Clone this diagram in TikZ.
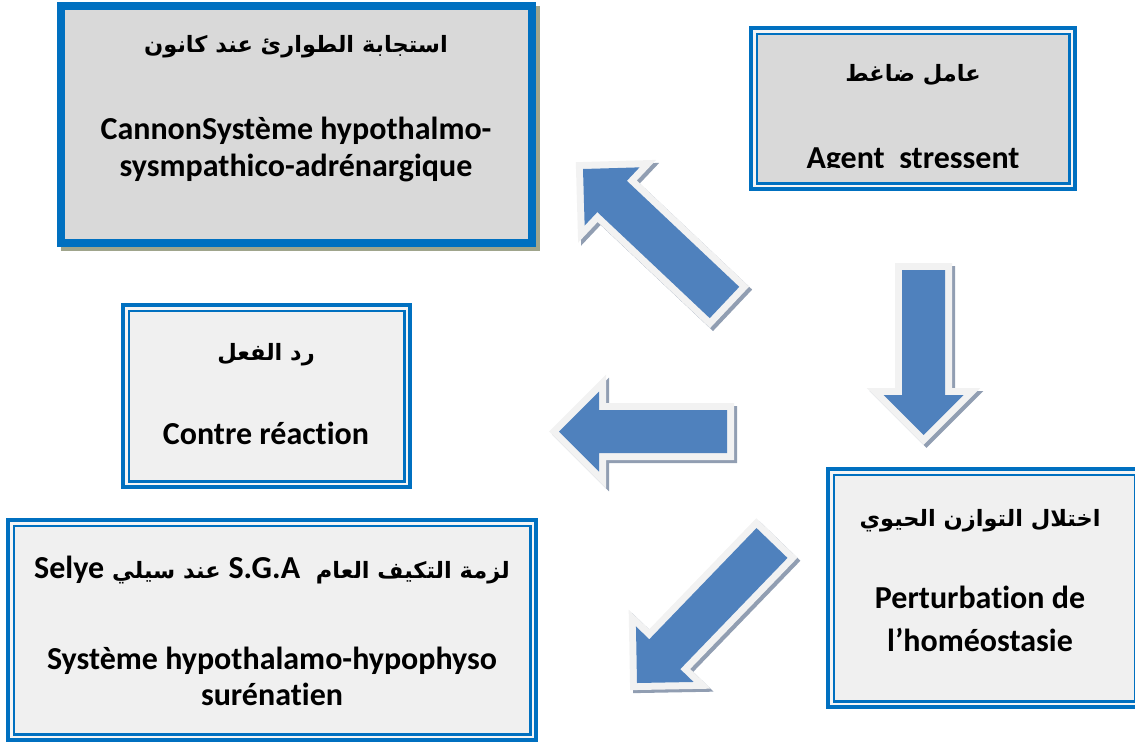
\documentclass[tikz,border=0pt]{standalone}
\usepackage{fontspec}
\setmainfont{Carlito}[Ligatures={NoCommon}]
\newfontfamily\arabicfont[Script=Arabic]{DejaVu Sans}
\TeXXeTstate=1
\usetikzlibrary{calc}
\definecolor{bblue}{RGB}{0,112,192}
\definecolor{dgrayfill}{RGB}{217,217,217}
\definecolor{lgrayfill}{RGB}{240,240,240}
\definecolor{gapcol}{RGB}{245,245,245}
\definecolor{arrowblue}{RGB}{79,129,189}
\definecolor{arrowedge}{RGB}{242,242,242}
\definecolor{arrowshadow}{RGB}{145,158,178}
\definecolor{boxshadow}{RGB}{160,165,140}
\tikzset{
  boxframe/.style={draw=bblue, line width=8pt, rectangle, inner sep=0pt},
  lat/.style={font=\bfseries\fontsize{32}{38}\selectfont, inner sep=0pt, anchor=base},
  ar/.style={font=\arabicfont\bfseries\fontsize{22.5}{27}\selectfont, inner sep=0pt},
  thinline/.style={draw=bblue, line width=2.5pt},
  gapline/.style={draw=gapcol, line width=2.5pt},
  arrowshape/.style={line width=14pt, line join=miter}
}
% name, x1, y1, x2, y2, fill
\newcommand\mybox[6]{%
  \node[boxframe, fill=#6, minimum width={#4-#2-8}, minimum height={#5-#3-8}] (#1) at ({(#2+#4)/2},{(#3+#5)/2}) {};
}
\newcommand\doubleframe[1]{%
  \draw[gapline] ([shift={(5.25pt,-5.25pt)}]#1.north west) rectangle ([shift={(-5.25pt,5.25pt)}]#1.south east);
  \draw[thinline] ([shift={(7.75pt,-7.75pt)}]#1.north west) rectangle ([shift={(-7.75pt,7.75pt)}]#1.south east);
}
\newcommand\blockarrow[2]{%
  \coordinate (hb) at ($(#2)!40pt!(#1)$);
  \coordinate (s1) at ($(#1)!21.5pt!90:(#2)$);
  \coordinate (s2) at ($(#1)!21.5pt!-90:(#2)$);
  \coordinate (b1) at ($(hb)!21.5pt!90:(#2)$);
  \coordinate (b2) at ($(hb)!21.5pt!-90:(#2)$);
  \coordinate (h1) at ($(hb)!40pt!90:(#2)$);
  \coordinate (h2) at ($(hb)!40pt!-90:(#2)$);
  \draw[arrowshape, draw=arrowshadow, fill=arrowshadow, transform canvas={xshift=3pt,yshift=-3pt}]
    (s1)--(b1)--(h1)--(#2)--(h2)--(b2)--(s2)--cycle;
  \draw[arrowshape, draw=arrowedge, fill=arrowedge]
    (s1)--(b1)--(h1)--(#2)--(h2)--(b2)--(s2)--cycle;
  \fill[arrowblue] (s1)--(b1)--(h1)--(#2)--(h2)--(b2)--(s2)--cycle;
}
\begin{document}
\begin{tikzpicture}[x=1pt,y=-1pt]
\useasboundingbox (0,0) rectangle (1135,742);
\clip (0,0) rectangle (1135,742);

% Box 1 (Cannon) with shadow
\fill[boxshadow] (61,6) rectangle (540,251);
\mybox{cannon}{57}{2}{536}{247}{dgrayfill}
\node[ar] (cannonar) at (296,47) {\beginR استجابة الطوارئ عند كانون\endR};
\node[lat] (cannonl1) at (296,139) {CannonSystème hypothalmo-};
\node[lat] (cannonl2) at (296,176) {sysmpathico-adrénargique};

% Box 2 (Agent stressent)
\mybox{agent}{749}{26}{1077}{191}{dgrayfill}
\doubleframe{agent}
\node[ar] (agentar) at (913,75) {\beginR عامل ضاغط\endR};
\begin{scope}
  \clip (760,40) rectangle (1066,167);
  \node[lat] (agentl) at (913,168.5) {Agent\ \ stressent};
\end{scope}

% Box 3 (Contre reaction)
\mybox{contre}{121}{303}{412}{489}{lgrayfill}
\doubleframe{contre}
\node[ar] (contrear) at (266,355) {\beginR رد الفعل\endR};
\node[lat] (contrel) at (266,444) {Contre réaction};

% Box 4 (Perturbation)
\mybox{pert}{826}{467}{1143}{709}{lgrayfill}
\doubleframe{pert}
\node[ar] (pertar) at (980,521) {\beginR اختلال التوازن الحيوي\endR};
\node[lat] (pertl1) at (980,608) {Perturbation de};
\node[lat] (pertl2) at (980,651) {l’homéostasie};

% Box 5 (Selye)
\mybox{selye}{6}{518}{538}{742}{lgrayfill}
\doubleframe{selye}
\node[ar, anchor=base] (selyel1) at (272,578) {\beginR لزمة التكيف العام\ \ {\rmfamily\bfseries\fontsize{32}{38}\selectfont\beginL S.G.A\endL} عند سيلي {\rmfamily\bfseries\fontsize{32}{38}\selectfont\beginL Selye\endL}\endR};
\node[lat] (selyel2) at (272,669) {Système hypothalamo-hypophyso};
\node[lat] (selyel3) at (272,705) {surénatien};

% Block arrows
\coordinate (a1tail) at (724.5,302.5);
\coordinate (a1tip) at (583,169);
\coordinate (a2tail) at (923.5,270);
\coordinate (a2tip) at (923.5,435);
\coordinate (a3tail) at (727,431.5);
\coordinate (a3tip) at (559,431.5);
\coordinate (a4tail) at (772,543);
\coordinate (a4tip) at (637,683);
\blockarrow{a1tail}{a1tip}
\blockarrow{a2tail}{a2tip}
\blockarrow{a3tail}{a3tip}
\blockarrow{a4tail}{a4tip}
\end{tikzpicture}
\end{document}
